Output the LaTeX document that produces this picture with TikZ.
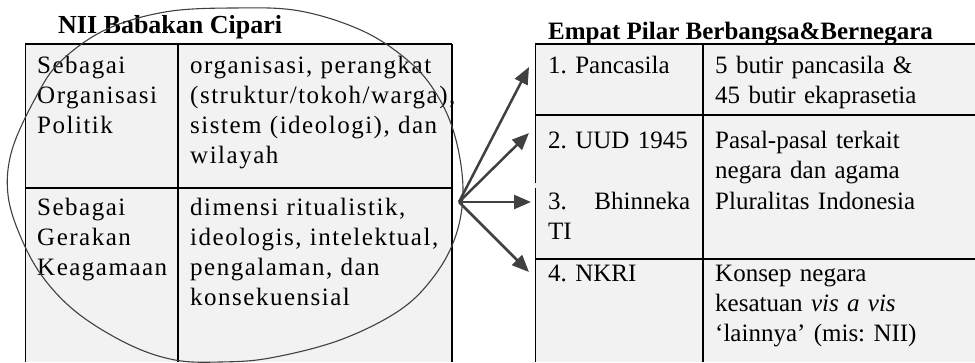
\documentclass[tikz,border=0pt]{standalone}
\usepackage{fontspec}
\setmainfont{Liberation Serif}
\newfontfamily\spacedfont[LetterSpace=6]{Liberation Serif}
\usetikzlibrary{arrows.meta}
\definecolor{cellgray}{HTML}{F2F2F2}
\definecolor{inkgray}{HTML}{404040}
\frenchspacing
\tikzset{
  txt/.style={anchor=base west, inner sep=0pt, align=left, text width=250pt, font=\fontsize{25}{30}\selectfont\frenchspacing},
  ltxt/.style={anchor=base west, inner sep=0pt, align=left, text width=260pt, font=\fontsize{25}{30}\spacedfont\frenchspacing},
  head/.style={anchor=base west, inner sep=0pt, font=\fontsize{26}{30}\selectfont\bfseries},
  thickrule/.style={line width=2pt, draw=black},
  thinrule/.style={line width=1pt, draw=black},
  link/.style={draw=inkgray, line width=2.5pt, -{Triangle[length=17pt,width=14pt]}},
  oval/.style={draw=inkgray, line width=1.1pt},
}
\begin{document}
\begin{tikzpicture}[x=1pt,y=-1pt]
\useasboundingbox (0,0) rectangle (975,362);
% left table
\fill[cellgray] (25,44) rectangle (452,362);
\draw[thickrule] (25,44) -- (452,44);
\draw[thickrule] (25,188) -- (452,188);
\draw[thickrule] (178,44) -- (178,362);
\draw[thickrule] (452,44) -- (452,362);
\draw[thinrule] (25,44) -- (25,362);
% right table
\fill[cellgray] (535,44) rectangle (975,362);
\draw[thickrule] (535,44) -- (975,44);
\draw[thickrule] (535,115) -- (975,115);
\draw[thickrule] (535,259) -- (975,259);
\draw[thickrule] (703,44) -- (703,362);
\draw[thinrule] (535,44) -- (535,183);
\draw[thinrule] (535,188) -- (535,362);
% headings
\node[head] (ltitle) at (58,33) {NII Babakan Cipari};
\node[head, font=\fontsize{25}{30}\selectfont\bfseries] (rtitle) at (548,39) {Empat Pilar Berbangsa\&Bernegara};
% left table text
\node[ltxt, text width=140pt] (l11) at (37,73) {Sebagai\\Organisasi\\Politik};
\node[ltxt] (l12) at (190,73) {organisasi, perangkat\\(struktur/tokoh/warga),\\sistem (ideologi), dan\\wilayah};
\node[ltxt, text width=140pt] (l21) at (37,215) {Sebagai\\Gerakan\\Keagamaan};
\node[ltxt] (l22) at (190,215) {dimensi ritualistik,\\ideologis, intelektual,\\pengalaman, dan\\konsekuensial};
% right table text
\node[txt, text width=150pt] (r11) at (548,73) {1. Pancasila};
\node[txt] (r12) at (715,73) {5 butir pancasila \&\\45 butir ekaprasetia};
\node[txt, text width=150pt] (r21) at (548,148) {2. UUD 1945};
\node[txt] (r22) at (715,148) {Pasal-pasal terkait\\negara dan agama};
\node[txt, text width=142pt] (r31) at (548,209) {3.\hfill Bhinneka\\TI};
\node[txt] (r32) at (715,209) {Pluralitas Indonesia};
\node[txt, text width=150pt] (r41) at (548,281) {4. NKRI};
\node[txt] (r42) at (715,281) {Konsep negara\\kesatuan \textit{vis a vis}\\‘lainnya’ (mis: NII)};
% hand-drawn oval
\draw[oval] plot[smooth cycle, tension=0.6] coordinates {
  (233,8) (300,11) (365,32) (413,65) (440,100) (456,140) (463,190)
  (456,235) (435,275) (400,310) (340,340) (270,358) (220,362) (175,360)
  (130,345) (80,315) (45,280) (22,240) (8,195) (12,150) (36,97)
  (60,62) (105,30) (165,12)};
% arrows
\coordinate (hub) at (459,202);
\coordinate (t1) at (529,67);
\coordinate (t2) at (529,133);
\coordinate (t3) at (531,202);
\coordinate (t4) at (529,272);
\draw[link] (hub) -- (t1);
\draw[link] (hub) -- (t2);
\draw[link] (hub) -- (t3);
\draw[link] (hub) -- (t4);
\end{tikzpicture}
\end{document}
